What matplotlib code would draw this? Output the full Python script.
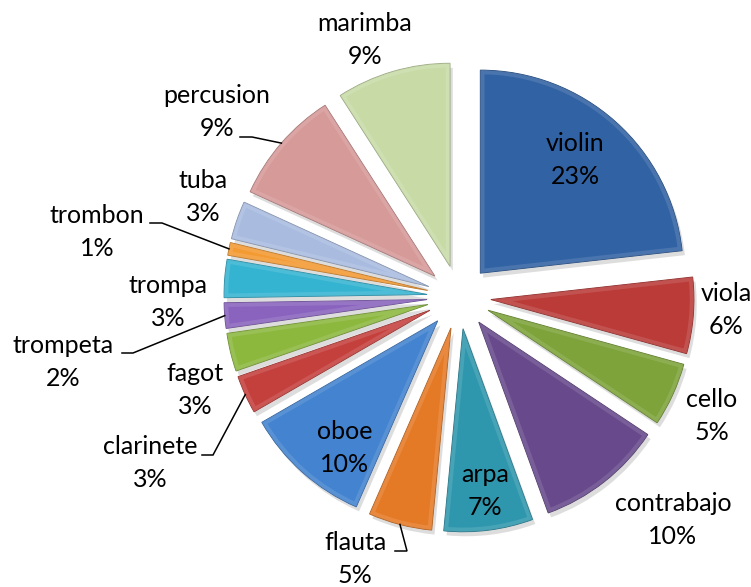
import matplotlib

matplotlib.use("Agg")
import matplotlib.pyplot as plt
import matplotlib.colors as mcolors
from matplotlib.patches import Wedge
import numpy as np

# data (clockwise from 12 o'clock)
instruments = ["violin", "viola", "cello", "contrabajo", "arpa", "flauta", "oboe",
               "clarinete", "fagot", "trompeta", "trompa", "trombon", "tuba",
               "percusion", "marimba"]
shares = [23, 6, 5, 10, 7, 5, 10, 3, 3, 2, 3, 1, 3, 9, 9]
colors = ["#3162A3", "#BA3B38", "#7DA33A", "#684A8C", "#2F97AD", "#E57A26", "#4383D0",
          "#C4403D", "#8CB83E", "#8A63BE", "#35B4D2", "#F39A32", "#A9BCE0",
          "#D69A98", "#C8DBA7"]

# layout, in pixels of the 751x587 picture
W, H = 751, 587
CX, CY, R = 459, 297, 203
label_px = {
    "violin": (575, 160), "viola": (726, 310), "cello": (712, 416),
    "contrabajo": (673, 520), "arpa": (485, 491), "flauta": (355, 559),
    "oboe": (345, 448), "clarinete": (150, 463), "fagot": (195, 390),
    "trompeta": (63, 362), "trompa": (168, 302), "trombon": (97, 232),
    "tuba": (203, 197), "percusion": (217, 112), "marimba": (365, 40),
}
# leader stubs: (start, elbow) in pixels, line then runs to the slice rim
leaders = {
    "percusion": ((240, 137), (252, 137)),
    "trombon": ((150, 223), (162, 223)),
    "trompeta": ((122, 353), (133, 353)),
    "clarinete": ((202, 455), (213, 455)),
    "flauta": ((395, 551), (407, 551)),
}
EXPLODE = 32 / R


def px(x, y):
    return (x - CX) / R, (CY - y) / R


def shade(c, f):
    r, g, b = mcolors.to_rgb(c)
    if f > 0:
        return (r + (1 - r) * f, g + (1 - g) * f, b + (1 - b) * f)
    return (r * (1 + f), g * (1 + f), b * (1 + f))


fig = plt.figure(figsize=(W / 100, H / 100), dpi=100)
ax = fig.add_axes([0, 0, 1, 1])

wedges, _ = ax.pie(shares, colors=colors, startangle=90, counterclock=False,
                   explode=[EXPLODE] * len(shares), radius=1,
                   wedgeprops=dict(linewidth=0.7),
                   shadow=dict(ox=0.01, oy=-0.016, facecolor="#a0a0a0",
                               edgecolor="none", alpha=0.35))

for w, c in zip(wedges, colors):
    w.set_edgecolor(shade(c, -0.25))
    # bevel: light inner rim clipped to the slice
    rim = Wedge(w.center, w.r, w.theta1, w.theta2, facecolor="none",
                edgecolor=shade(c, 0.3), linewidth=6, alpha=0.4, zorder=w.get_zorder() + 0.1)
    ax.add_patch(rim)
    rim.set_clip_path(w)

for name, share, w in zip(instruments, shares, wedges):
    lx, ly = px(*label_px[name])
    ax.text(lx, ly, f"{name}\n{share}%", ha="center", va="center", fontsize=18,
            family="Lato", color="black", linespacing=1.5, zorder=10)
    if name in leaders:
        (sx, sy), (ex, ey) = leaders[name]
        mid = np.deg2rad((w.theta1 + w.theta2) / 2)
        rx = w.center[0] + w.r * np.cos(mid)
        ry = w.center[1] + w.r * np.sin(mid)
        p0, p1 = px(sx, sy), px(ex, ey)
        ax.plot([p0[0], p1[0], rx], [p0[1], p1[1], ry], color="black", linewidth=1.1,
                zorder=9, solid_joinstyle="miter")

# pie() resets the limits, so fix the frame afterwards
ax.set_xlim(px(0, 0)[0], px(W, 0)[0])
ax.set_ylim(px(0, H)[1], px(0, 0)[1])
ax.set_aspect("equal")
ax.axis("off")

fig.savefig("out.png", dpi=100)
